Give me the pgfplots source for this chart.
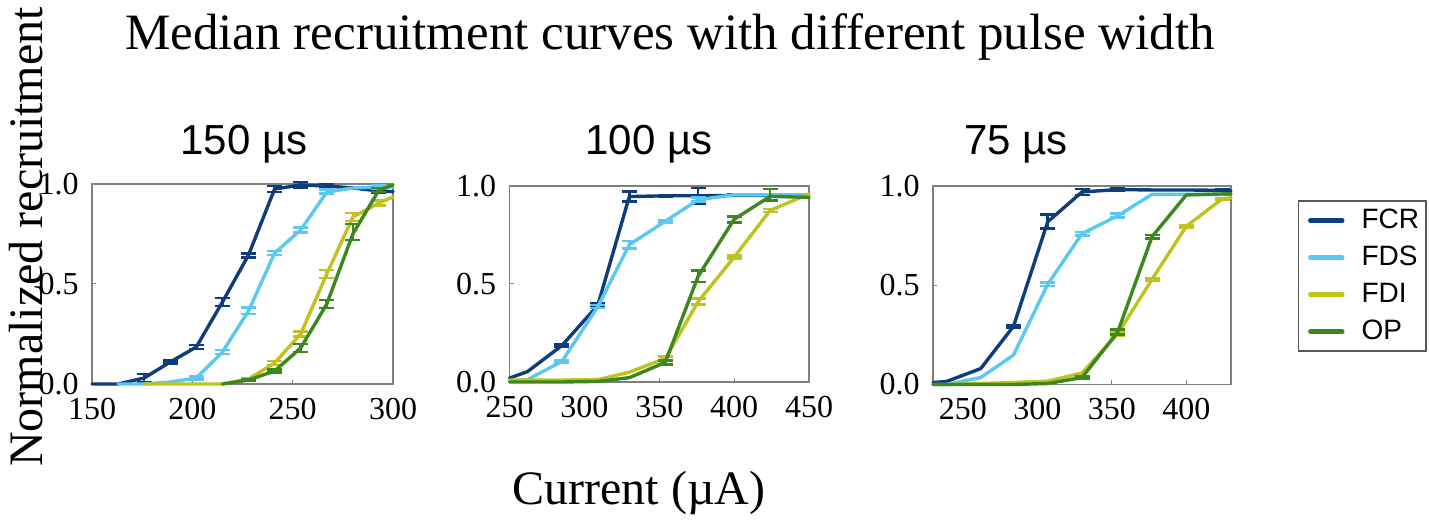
\documentclass[border=0pt]{standalone}
\usepackage{fontspec}
\setmainfont{Liberation Serif}
\setsansfont{Liberation Sans}
\usepackage{pgfplots}
\pgfplotsset{compat=1.18}
\definecolor{cFCR}{HTML}{0F3C7D}
\definecolor{cFDS}{HTML}{5AC8F0}
\definecolor{cFDI}{HTML}{BEC31E}
\definecolor{cOP}{HTML}{3C871E}
\pgfplotsset{
  panel/.style={scale only axis, anchor=south west, ymin=0, ymax=1, ytick={0,0.5,1},
    clip=false, tick align=inside, tick pos=left, major tick length=2pt,
    axis line style={draw=gray, line width=0.6pt},
    every tick/.style={draw=gray, line width=0.5pt},
    ticklabel style={font=\fontsize{16}{18}\selectfont},
    /pgf/number format/assume math mode=true,
    yticklabel style={/pgf/number format/.cd, fixed, fixed zerofill, precision=1, /tikz/.cd, xshift=-3.2pt},
    xticklabel style={yshift=-3.5pt, /pgf/number format/.cd, 1000 sep={}},
  },
  ln/.style={color=#1, line width=1.7pt, line join=round, line cap=round, mark=none},
  eb/.style={forget plot, draw=none, mark=none,
    error bars/y dir=both, error bars/y explicit,
    error bars/error bar style={draw=#1, line width=1.3pt, solid},
    error bars/error mark options={draw=#1, rotate=90, line width=1.3pt, mark size=3.75pt}},
}
\begin{document}
\begin{tikzpicture}
\path[use as bounding box] (0,0) rectangle (714.5pt,262pt);

% ---------------- 150 us ----------------
\begin{axis}[panel, at={(46pt,70pt)}, width=150.5pt, height=100pt,
  xmin=150, xmax=300, xtick={150,200,250,300}]
\addplot[ln=cFCR] table {
x y
150 0
163 0
176 0.03
189 0.11
202 0.185
215 0.41
228 0.645
241 0.975
254 0.995
267 0.99
280 0.98
293 0.965
300 0.962
};
\addplot[eb=cFCR] coordinates {(176,0.03) +- (0,0.02) (189,0.11) +- (0,0.008) (202,0.185) +- (0,0.01) (215,0.41) +- (0,0.02) (228,0.643) +- (0,0.01) (241,0.975) +- (0,0.015) (254,0.995) +- (0,0.015) (267,0.99) +- (0,0.006) (280,0.98) +- (0,0.004) (293,0.965) +- (0,0.008)};
\addplot[ln=cFDS] table {
x y
163 0
176 0
189 0.01
202 0.03
215 0.16
228 0.365
241 0.655
254 0.77
267 0.96
280 0.98
293 0.985
300 0.985
};
\addplot[eb=cFDS] coordinates {(202,0.03) +- (0,0.008) (215,0.16) +- (0,0.01) (228,0.365) +- (0,0.016) (241,0.655) +- (0,0.01) (254,0.77) +- (0,0.012) (267,0.962) +- (0,0.01) (293,0.985) +- (0,0.01)};
\addplot[ln=cFDI] table {
x y
176 0
189 0
202 0
215 0
228 0.025
241 0.105
254 0.25
267 0.55
280 0.835
293 0.905
300 0.935
};
\addplot[eb=cFDI] coordinates {(228,0.025) +- (0,0.005) (241,0.105) +- (0,0.01) (254,0.25) +- (0,0.012) (267,0.55) +- (0,0.02) (280,0.835) +- (0,0.02) (293,0.905) +- (0,0.012)};
\addplot[ln=cOP] table {
x y
215 0
228 0.02
241 0.065
254 0.18
267 0.40
280 0.75
293 0.97
300 0.995
};
\addplot[eb=cOP] coordinates {(228,0.02) +- (0,0.004) (241,0.065) +- (0,0.008) (254,0.18) +- (0,0.02) (267,0.40) +- (0,0.02) (280,0.76) +- (0,0.04) (293,0.97) +- (0,0.01)};
\end{axis}

% ---------------- 100 us ----------------
\begin{axis}[panel, at={(254.75pt,71pt)}, width=149.75pt, height=98pt,
  xmin=250, xmax=450, xtick={250,300,350,400,450}]
\addplot[ln=cFCR] table {
x y
250 0.02
262 0.053
285 0.186
309 0.392
330 0.946
354 0.95
376 0.95
400 0.952
424 0.952
450 0.955
};
\addplot[eb=cFCR] coordinates {(285,0.186) +- (0,0.005) (309,0.392) +- (0,0.008) (330,0.946) +- (0,0.025) (354,0.95) +- (0,0.004) (376,0.95) +- (0,0.04) (400,0.952) +- (0,0.004) (424,0.952) +- (0,0.004)};
\addplot[ln=cFDS] table {
x y
250 0.005
262 0.012
285 0.105
309 0.385
330 0.70
354 0.82
376 0.93
400 0.955
424 0.955
450 0.955
};
\addplot[eb=cFDS] coordinates {(285,0.105) +- (0,0.005) (309,0.385) +- (0,0.008) (330,0.70) +- (0,0.02) (354,0.82) +- (0,0.006) (376,0.93) +- (0,0.01)};
\addplot[ln=cFDI] table {
x y
250 0.01
262 0.01
285 0.01
309 0.012
330 0.05
354 0.12
376 0.41
400 0.637
424 0.875
450 0.96
};
\addplot[eb=cFDI] coordinates {(354,0.12) +- (0,0.01) (376,0.41) +- (0,0.015) (400,0.637) +- (0,0.008) (424,0.875) +- (0,0.008)};
\addplot[ln=cOP] table {
x y
250 0.0
262 0.0
285 0.0
309 0.003
330 0.022
354 0.10
376 0.54
400 0.83
424 0.947
450 0.942
};
\addplot[eb=cOP] coordinates {(354,0.10) +- (0,0.01) (376,0.54) +- (0,0.03) (400,0.83) +- (0,0.015) (424,0.955) +- (0,0.03)};
\end{axis}

% ---------------- 75 us ----------------
\begin{axis}[panel, at={(466.5pt,69.75pt)}, width=149pt, height=99.25pt,
  xmin=230, xmax=430, xtick={250,300,350,400},
  legend cell align=left,
  legend image code/.code={\path (0pt,0pt); \draw[#1, line width=2.2pt, line cap=round] (1.5pt,0pt) -- (17.5pt,0pt);},
  legend style={at={(1.2248,0.927)}, anchor=north west, draw=gray!70!black, line width=0.6pt,
    inner xsep=3.5pt, inner ysep=0.5pt, font=\fontsize{14}{16}\sffamily, row sep=0pt,
    nodes={inner sep=0pt, minimum height=18.5pt},
    /tikz/every odd column/.append style={column sep=8.5pt}}]
\addplot[ln=cFCR] table {
x y
230 0.01
239 0.015
262 0.08
284 0.293
307 0.82
330 0.97
354 0.982
377 0.98
400 0.98
424 0.978
430 0.975
};
\addlegendentry{FCR}
\addplot[eb=cFCR] coordinates {(284,0.293) +- (0,0.005) (307,0.82) +- (0,0.035) (330,0.97) +- (0,0.015) (354,0.982) +- (0,0.004) (424,0.978) +- (0,0.004)};
\addplot[ln=cFDS] table {
x y
230 0.0
239 0.0
262 0.035
284 0.148
307 0.505
330 0.76
354 0.85
377 0.958
400 0.958
424 0.958
430 0.958
};
\addlegendentry{FDS}
\addplot[eb=cFDS] coordinates {(307,0.505) +- (0,0.008) (330,0.76) +- (0,0.008) (354,0.85) +- (0,0.01)};
\addplot[ln=cFDI] table {
x y
230 0
239 0
262 0.005
284 0.01
307 0.017
330 0.058
354 0.255
377 0.53
400 0.797
424 0.935
430 0.94
};
\addlegendentry{FDI}
\addplot[eb=cFDI] coordinates {(354,0.255) +- (0,0.008) (377,0.53) +- (0,0.005) (400,0.797) +- (0,0.005) (424,0.935) +- (0,0.005)};
\addplot[ln=cOP] table {
x y
230 0
239 0
262 0
284 0
307 0.005
330 0.035
354 0.265
377 0.745
400 0.955
424 0.96
430 0.96
};
\addlegendentry{OP}
\addplot[eb=cOP] coordinates {(330,0.035) +- (0,0.004) (354,0.265) +- (0,0.012) (377,0.745) +- (0,0.008)};
\end{axis}

% ---------------- texts ----------------
\node[anchor=base, inner sep=0pt] at (335pt,237pt) {\fontsize{25.5}{30}\selectfont Median recruitment curves with different pulse width};
\node[anchor=base, inner sep=0pt] at (122pt,184.5pt) {\fontsize{21}{25}\sffamily 150 µs};
\node[anchor=base, inner sep=0pt] at (324.5pt,184.5pt) {\fontsize{21}{25}\sffamily 100 µs};
\node[anchor=base, inner sep=0pt] at (508pt,184.5pt) {\fontsize{21}{25}\sffamily 75 µs};
\node[anchor=base, inner sep=0pt] at (319.5pt,9.5pt) {\fontsize{24}{28}\selectfont Current (µA)};
\node[anchor=base, rotate=90, inner sep=0pt] at (21pt,143.5pt) {\fontsize{24}{28}\selectfont Normalized recruitment};
\end{tikzpicture}
\end{document}
